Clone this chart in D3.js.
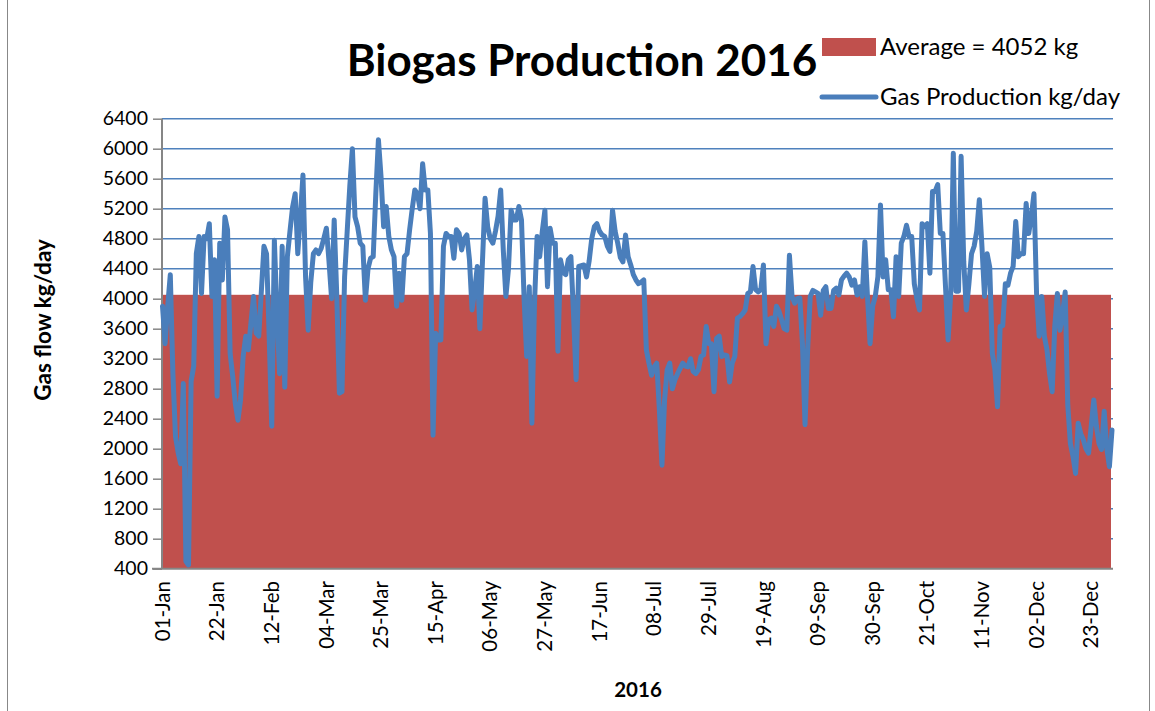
<!DOCTYPE html>
<html>
<head>
<meta charset="utf-8">
<script src="https://cdn.jsdelivr.net/npm/d3@7"></script>
<style>
  body { margin: 0; background: #fff; }
  svg { display: block; font-family: Lato, "Open Sans", sans-serif; }
</style>
</head>
<body>
<svg width="1155" height="711"></svg>
<script>
// daily gas production 2016, kg/day (01-Jan .. 31-Dec)
const gasProduction = [
  3900,3400,3900,4320,3000,2160,1950,1800,2870,500,
  450,2900,3100,4600,4830,4070,4830,4800,5000,4030,
  4520,2700,4740,4250,5090,4920,3270,2960,2600,2380,
  2650,3230,3500,3320,3680,4030,3540,3500,4100,4700,
  4600,3500,2300,4780,3800,3000,4700,2820,4560,4900,
  5220,5400,4600,5100,5650,4290,3580,4220,4600,4650,
  4600,4670,4800,4940,4500,4000,5050,4030,2740,2760,
  4290,4900,5500,6000,5090,4960,4740,4700,3980,4400,
  4540,4560,5400,6120,5630,4960,5230,4830,4650,4560,
  3900,4340,3980,4560,4600,4920,5200,5450,5400,5200,
  5800,5450,5450,4870,2180,3540,3450,3450,4700,4870,
  4830,4830,4540,4920,4870,4650,4800,4850,4520,3850,
  4100,4430,3600,4500,5340,4960,4800,4740,4900,5100,
  5450,4650,4030,4400,5180,5050,5050,5230,5050,4000,
  3230,4160,2340,3940,4830,4560,4900,5180,4160,4940,
  4740,4740,3300,4520,4350,4320,4520,4560,3800,2920,
  4430,4440,4450,4290,4500,4800,4960,5000,4900,4850,
  4830,4700,4630,5180,4900,4740,4550,4490,4850,4560,
  4450,4320,4250,4200,4220,4250,3320,3140,2980,3090,
  3140,2520,1780,2650,3050,3140,2800,2920,3000,3070,
  3140,3100,3090,3200,3030,3000,3050,3230,3250,3630,
  3400,3400,2760,3470,3500,3230,3250,3240,2890,3140,
  3230,3740,3760,3800,3850,4070,4090,4430,4120,4090,
  4120,4450,3400,3720,3740,3630,3900,3830,3720,3600,
  3580,4580,4030,3940,4000,4010,3400,2320,3320,4030,
  4110,4090,4070,3780,4110,4160,3870,3870,4110,4140,
  4050,4250,4300,4340,4290,4180,4250,4050,4160,4030,
  4760,4030,3400,3900,4030,4290,5250,4290,4520,4120,
  4120,3760,4560,4030,4740,4830,4980,4830,4830,4200,
  4000,3850,5000,4960,5000,4340,5430,5430,5520,4870,
  4870,4160,3450,4070,5940,4100,4100,5900,4500,3850,
  4200,4600,4700,4900,5320,4700,4030,4600,4420,3270,
  3050,2560,3630,3640,4200,4180,4340,4430,5030,4560,
  4600,4600,5270,4870,5100,5400,4070,3500,4030,3500,
  3320,3000,2760,3630,4070,3580,3800,4090,2580,2070,
  1900,1670,2340,2200,2120,2000,1940,2300,2650,2300,
  2070,1990,2500,2000,1760,2250
];
const averageGas = 4052;

const yTicks = [400,800,1200,1600,2000,2400,2800,3200,3600,4000,4400,4800,5200,5600,6000,6400];
const xTickLabels = ["2016-01-01","2016-01-22","2016-02-12","2016-03-04","2016-03-25",
  "2016-04-15","2016-05-06","2016-05-27","2016-06-17","2016-07-08","2016-07-29",
  "2016-08-19","2016-09-09","2016-09-30","2016-10-21","2016-11-11","2016-12-02","2016-12-23"];

const parse = d3.timeParse("%Y-%m-%d"),
      fmt   = d3.timeFormat("%d-%b"),
      start = parse("2016-01-01"),
      data  = gasProduction.map((v, i) => ({date: d3.timeDay.offset(start, i), value: v}));

const svg = d3.select("svg"),
      plot = {left: 162, right: 1111, top: 118.7, bottom: 568.7};

const x = d3.scaleTime()
  .domain([start, parse("2016-12-31")])
  .range([plot.left + 0.5, plot.right + 1]);
const y = d3.scaleLinear()
  .domain([400, 6400])
  .range([plot.bottom, plot.top]);

// chart border
svg.append("rect")
  .attr("x", 7.5).attr("y", -2).attr("width", 1142).attr("height", 716)
  .attr("fill", "none").attr("stroke", "#888").attr("stroke-width", 1);

// gridlines
svg.append("g").selectAll("line")
  .data(yTicks.slice(1))
  .join("line")
    .attr("x1", plot.left).attr("x2", plot.right + 2)
    .attr("y1", d => y(d)).attr("y2", d => y(d))
    .attr("stroke", "#4F81BD").attr("stroke-width", 1.6);

// average area
svg.append("rect")
  .attr("x", plot.left).attr("width", plot.right - plot.left)
  .attr("y", y(averageGas)).attr("height", y(400) - y(averageGas))
  .attr("fill", "#C0504D");

// y axis
const yAxis = svg.append("g")
  .attr("transform", `translate(${plot.left},0)`)
  .call(d3.axisLeft(y).tickValues(yTicks).tickSize(9).tickPadding(5).tickFormat(d3.format("d")));
yAxis.select(".domain").attr("stroke", "#868686").attr("stroke-width", 2).attr("d", `M0,${plot.top}V${plot.bottom}`);
yAxis.selectAll(".tick line").attr("stroke", "#868686").attr("stroke-width", 1.5);
yAxis.selectAll(".tick text").attr("font-size", 19.5).attr("fill", "#000").attr("font-family", "Lato");

// x axis
svg.append("line")
  .attr("x1", plot.left - 10).attr("x2", plot.right + 2)
  .attr("y1", plot.bottom).attr("y2", plot.bottom)
  .attr("stroke", "#868686").attr("stroke-width", 2);

svg.append("g").selectAll("text")
  .data(xTickLabels.map(parse))
  .join("text")
    .attr("transform", d => `translate(${x(d)},581) rotate(-90)`)
    .attr("text-anchor", "end")
    .attr("dy", "0.35em")
    .attr("font-size", 20.5)
    .text(d => fmt(d));

// gas line
svg.append("path")
  .datum(data)
  .attr("fill", "none")
  .attr("stroke", "#4A7EBB")
  .attr("stroke-width", 5)
  .attr("stroke-linejoin", "round")
  .attr("stroke-linecap", "round")
  .attr("d", d3.line().x(d => x(d.date)).y(d => y(d.value)));

// titles
svg.append("text")
  .attr("x", 582).attr("y", 76)
  .attr("text-anchor", "middle")
  .attr("font-size", 44).attr("font-weight", "bold")
  .text("Biogas Production 2016");

svg.append("text")
  .attr("transform", "translate(51,320) rotate(-90)")
  .attr("text-anchor", "middle")
  .attr("font-size", 22.5).attr("font-weight", "bold")
  .text("Gas flow kg/day");

svg.append("text")
  .attr("x", 638).attr("y", 697)
  .attr("text-anchor", "middle")
  .attr("font-size", 20.5).attr("font-weight", "bold")
  .text("2016");

// legend
const legend = svg.append("g").attr("font-size", 24);
legend.append("rect")
  .attr("x", 822).attr("y", 38).attr("width", 54).attr("height", 18)
  .attr("fill", "#C0504D");
legend.append("text")
  .attr("x", 880).attr("y", 47).attr("dy", "0.35em")
  .text(`Average = ${averageGas} kg`);
legend.append("line")
  .attr("x1", 822).attr("x2", 876).attr("y1", 97).attr("y2", 97)
  .attr("stroke", "#4A7EBB").attr("stroke-width", 5).attr("stroke-linecap", "round");
legend.append("text")
  .attr("x", 880).attr("y", 97).attr("dy", "0.35em")
  .text("Gas Production kg/day");
</script>
</body>
</html>
